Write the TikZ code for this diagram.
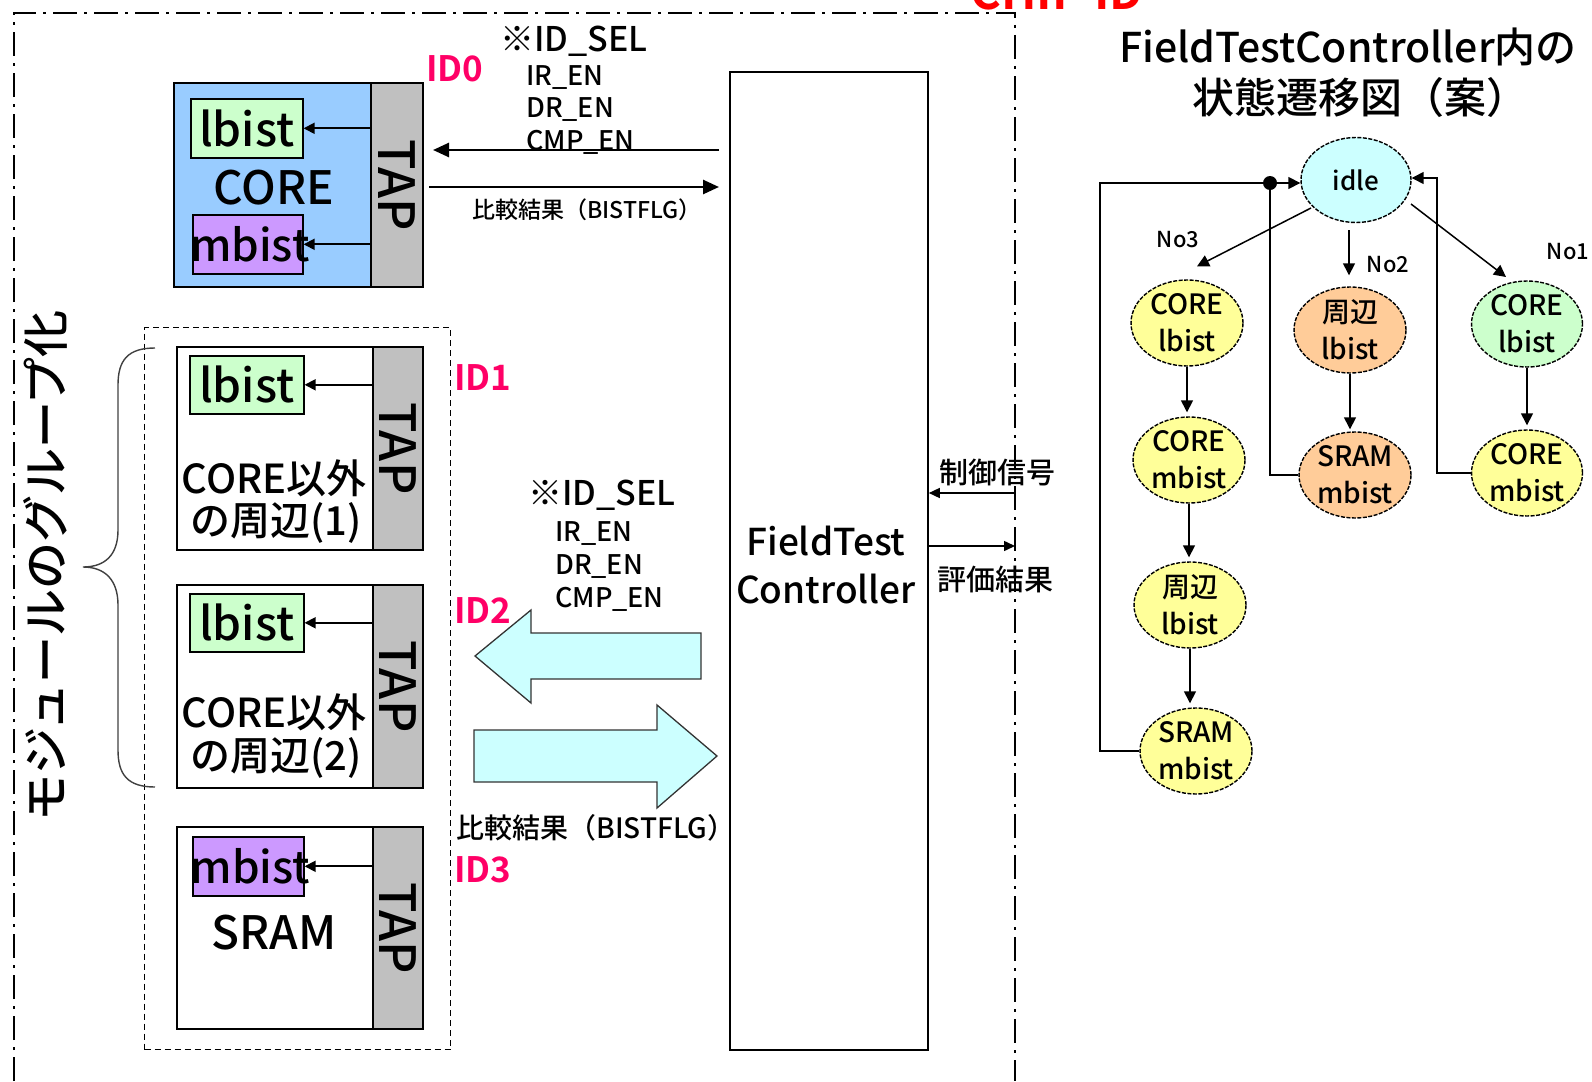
\documentclass[tikz,border=0pt]{standalone}
\usepackage{fontspec}
\setmainfont{Noto Sans CJK JP Medium}[BoldFont=Noto Sans CJK JP Bold]
\usetikzlibrary{arrows.meta}
\usetikzlibrary{shapes.geometric}
\definecolor{coreblue}{HTML}{99CCFF}
\definecolor{lbgreen}{HTML}{CCFFCC}
\definecolor{mbpurple}{HTML}{CC99FF}
\definecolor{tapgray}{HTML}{C0C0C0}
\definecolor{sigcyan}{HTML}{CCFFFF}
\definecolor{styellow}{HTML}{FFFF99}
\definecolor{storange}{HTML}{FFCC99}
\definecolor{idpink}{HTML}{FF0066}
\definecolor{chipred}{HTML}{FF0000}
\newcommand\setfs[2]{\fontsize{#1}{#2}\selectfont}

\begin{document}
\begin{tikzpicture}[x=1pt,y=-1pt,
  chipframe/.style={line width=1.8pt, dash pattern=on 24pt off 7pt on 3pt off 7pt},
  body/.style={draw, line width=1.8pt, anchor=north west, inner sep=0pt, outer sep=0pt},
  tapbox/.style={body, fill=tapgray, minimum width=52pt},
  bistbox/.style={draw, line width=1.6pt, anchor=north west, minimum width=112pt, minimum height=59pt, inner sep=0pt},
  bisttext/.style={font=\setfs{46}{50}, inner sep=0pt},
  mbisttext/.style={font=\setfs{44}{48}, inner sep=0pt},
  taptext/.style={font=\setfs{50}{54}, rotate=-90, inner sep=0pt},
  bigtext/.style={font=\setfs{46}{50}, inner sep=0pt},
  midtext/.style={font=\setfs{40}{44}, inner sep=0pt},
  idlabel/.style={font=\bfseries\setfs{35}{40}, text=idpink, inner sep=0pt, anchor=west},
  seltext/.style={font=\setfs{34}{38}, inner sep=0pt, anchor=base west},
  entext/.style={font=\setfs{27}{30}, inner sep=0pt, anchor=base west},
  tapsig/.style={-{Triangle[length=11pt,width=11pt]}, line width=1.8pt},
  bussig/.style={-{Triangle[length=16pt,width=14pt]}, line width=2.6pt},
  extsig/.style={-{Triangle[length=11pt,width=10pt]}, line width=1.5pt},
  blockarrow/.style={fill=sigcyan, draw=black!80, line width=1.3pt},
  state/.style={ellipse, draw=black, line width=1.4pt, dash pattern=on 4pt off 1.5pt,
    minimum width=112pt, minimum height=86pt, inner sep=0pt, align=center, font=\setfs{28}{37}},
  trans/.style={-{Triangle[length=12pt,width=12pt]}, line width=1.5pt},
  ret/.style={line width=1.5pt},
  nolabel/.style={font=\setfs{22}{24}, inner sep=0pt},
]
\useasboundingbox (0,0) rectangle (1592,1081);

% chip boundary
\draw[chipframe] (14,1081) -- (14,13) -- (1015,13) -- (1015,1081);
\node[font=\bfseries\setfs{47}{50}, text=chipred, anchor=base west, inner sep=0pt] (chip) at (970,10) {CHIP ID};

% field test controller
\node[draw, line width=1.8pt, anchor=north west, minimum width=198pt, minimum height=978pt, inner sep=0pt] (ft) at (729,71) {};
\node[font=\setfs{37}{48}, align=center, inner sep=0pt] (fttxt) at (826,565) {FieldTest\\Controller};

% CORE module, ID0
\node[body, fill=coreblue, minimum width=197pt, minimum height=204pt] (m0) at (174,83) {};
\node[tapbox, minimum height=204pt] (t0) at (371,83) {};
\node[taptext] (t0txt) at (t0.center) {TAP};
\node[bistbox, fill=lbgreen] (lb0) at (190,98) {};
\node[bisttext] (lb0txt) at (lb0.center) {lbist};
\node[bigtext] (core0) at (274,188) {CORE};
\node[bistbox, fill=mbpurple, minimum width=110pt] (mb0) at (192,214) {};
\node[mbisttext] (mb0txt) at ([xshift=2pt]mb0.center) {mbist};
\draw[tapsig] (t0.west |- lb0.east) -- (lb0.east);
\draw[tapsig] (t0.west |- mb0.east) -- (mb0.east);
\node[idlabel] (id0) at (426,69) {ID0};

% control bus to ID0
\node[seltext] (sel0) at (500,52) {※ID\_SEL};
\node[entext] (ir0) at (526,85) {IR\_EN};
\node[entext] (dr0) at (526,117) {DR\_EN};
\node[entext] (cmp0) at (526,150) {CMP\_EN};
\draw[bussig, shorten <=10pt, shorten >=10pt] (ft.west |- 0,150) -- (t0.east |- 0,150);
\draw[bussig, shorten <=6pt, shorten >=10pt] (t0.east |- 0,187) -- (ft.west |- 0,187);
\node[font=\setfs{23}{26}, inner sep=0pt] (res0) at (587,210) {比較結果（BISTFLG）};

% grouped peripheral modules
\node[draw, line width=1.4pt, dash pattern=on 6pt off 4pt, anchor=north west,
  minimum width=306pt, minimum height=722pt, inner sep=0pt] (grp) at (144,327) {};

% ID1
\node[body, fill=white, minimum width=196pt, minimum height=203pt] (m1) at (177,347) {};
\node[tapbox, minimum width=50pt, minimum height=203pt] (t1) at (373,347) {};
\node[taptext] (t1txt) at (t1.center) {TAP};
\node[bistbox, fill=lbgreen, minimum width=114pt, minimum height=58pt] (lb1) at (189,355) {};
\node[bisttext] (lb1txt) at (lb1.center) {lbist};
\draw[tapsig] (t1.west |- lb1.east) -- (lb1.east);
\node[midtext] (p1a) at (274,478) {CORE以外};
\node[midtext] (p1b) at (276,523) {の周辺(1)};
\node[idlabel] (id1) at (454,378) {ID1};

% ID2
\node[body, fill=white, minimum width=196pt, minimum height=203pt] (m2) at (177,585) {};
\node[tapbox, minimum width=50pt, minimum height=203pt] (t2) at (373,585) {};
\node[taptext] (t2txt) at (t2.center) {TAP};
\node[bistbox, fill=lbgreen, minimum width=114pt, minimum height=58pt] (lb2) at (189,593) {};
\node[bisttext] (lb2txt) at (lb2.center) {lbist};
\draw[tapsig] (t2.west |- lb2.east) -- (lb2.east);
\node[midtext] (p2a) at (274,712) {CORE以外};
\node[midtext] (p2b) at (276,758) {の周辺(2)};
\node[idlabel] (id2) at (454,611) {ID2};

% ID3
\node[body, fill=white, minimum width=196pt, minimum height=202pt] (m3) at (177,827) {};
\node[tapbox, minimum width=50pt, minimum height=202pt] (t3) at (373,827) {};
\node[taptext] (t3txt) at (t3.center) {TAP};
\node[bistbox, fill=mbpurple, minimum width=111pt] (mb3) at (192,836) {};
\node[mbisttext] (mb3txt) at ([xshift=2pt]mb3.center) {mbist};
\draw[tapsig] (t3.west |- mb3.east) -- (mb3.east);
\node[bigtext] (sram) at (274,933) {SRAM};
\node[idlabel] (id3) at (454,870) {ID3};

% grouping brace and label
\draw[line width=1.4pt, draw=black!75] (155,348) .. controls (128,348) and (118,360) .. (118,385)
  -- (118,530) .. controls (118,555) and (105,567) .. (83,567)
  .. controls (105,567) and (118,580) .. (118,605)
  -- (118,750) .. controls (118,775) and (128,787) .. (155,787);
\node[rotate=90, font=\setfs{47}{50}, inner sep=0pt] (grptxt) at (45,566) {モジュールのグループ化};

% shared bus to the group
\node[seltext] (sel1) at (528,505) {※ID\_SEL};
\node[entext] (ir1) at (555,541) {IR\_EN};
\node[entext] (dr1) at (555,574) {DR\_EN};
\node[entext] (cmp1) at (555,607) {CMP\_EN};
\draw[blockarrow] (701,633) -- (531,633) -- (531,610) -- (475,656) -- (531,703) -- (531,679) -- (701,679) -- cycle;
\draw[blockarrow] (474,730) -- (657,730) -- (657,705) -- (717,756) -- (657,808) -- (657,782) -- (474,782) -- cycle;
\node[font=\setfs{28}{30}, inner sep=0pt] (res1) at (596,828) {比較結果（BISTFLG）};

% external signals
\coordinate (xin) at (1015,493);
\coordinate (xout) at (1015,546);
\draw[extsig] (xin) -- (ft.east |- xin);
\draw[extsig] (ft.east |- xout) -- (xout);
\node[font=\setfs{29}{32}, inner sep=0pt] (ctl) at (997,472) {制御信号};
\node[font=\setfs{29}{32}, inner sep=0pt] (eval) at (995,580) {評価結果};

% state diagram
\node[font=\setfs{41}{46}, inner sep=0pt] (ttl1) at (1348,47) {FieldTestController内の};
\node[font=\setfs{42}{46}, inner sep=0pt] (ttl2) at (1360,98) {状態遷移図（案）};

\node[state, fill=sigcyan, minimum width=110pt, minimum height=85pt, font=\setfs{26}{30}] (idle) at (1356,180) {idle};
\node[state, fill=styellow] (s3a) at (1187,323) {CORE\\lbist};
\node[state, fill=styellow] (s3b) at (1189,460) {CORE\\mbist};
\node[state, fill=styellow] (s3c) at (1190,605) {周辺\\lbist};
\node[state, fill=styellow] (s3d) at (1196,751) {SRAM\\mbist};
\node[state, fill=storange] (s2a) at (1350,330) {周辺\\lbist};
\node[state, fill=storange] (s2b) at (1355,475) {SRAM\\mbist};
\node[state, fill=lbgreen, minimum width=111pt] (s1a) at (1527,324) {CORE\\lbist};
\node[state, fill=styellow, minimum width=111pt] (s1b) at (1527,473) {CORE\\mbist};

\node[nolabel] (no3) at (1178,240) {No3};
\node[nolabel] (no2) at (1388,265) {No2};
\node[nolabel] (no1) at (1568,252) {No1};

\draw[trans] ([shift={(-45,28)}]idle.center) -- ([shift={(10,-13)}]s3a.north);
\draw[trans] ([shift={(-7,7)}]idle.south) -- ([shift={(-1,-11)}]s2a.north);
\draw[trans] ([shift={(55,24)}]idle.center) -- ([shift={(-21,-47)}]s1a.center);

\draw[trans, shorten >=4pt] (s3a.south) -- (s3a.south |- s3b.north);
\draw[trans, shorten >=4pt] (s3b.south) -- (s3b.south |- s3c.north);
\draw[trans, shorten >=4pt] (s3c.south) -- (s3c.south |- s3d.north);
\draw[trans, shorten >=2pt] (s2a.south) -- (s2a.south |- s2b.north);
\draw[trans, shorten >=4pt] (s1a.south) -- (s1a.south |- s1b.north);

\coordinate (c3) at (1100,183);
\coordinate (j2) at (1270,183);
\coordinate (c1) at (1437,178);
\draw[trans] (s3d.west) -| (c3) -- ([shift={(0,3)}]idle.west);
\draw[ret] (s2b.west) -| (j2);
\fill (j2) circle (7);
\draw[trans] (s1b.west) -| (c1) -- ([shift={(0,-2)}]idle.east);
\end{tikzpicture}
\end{document}
